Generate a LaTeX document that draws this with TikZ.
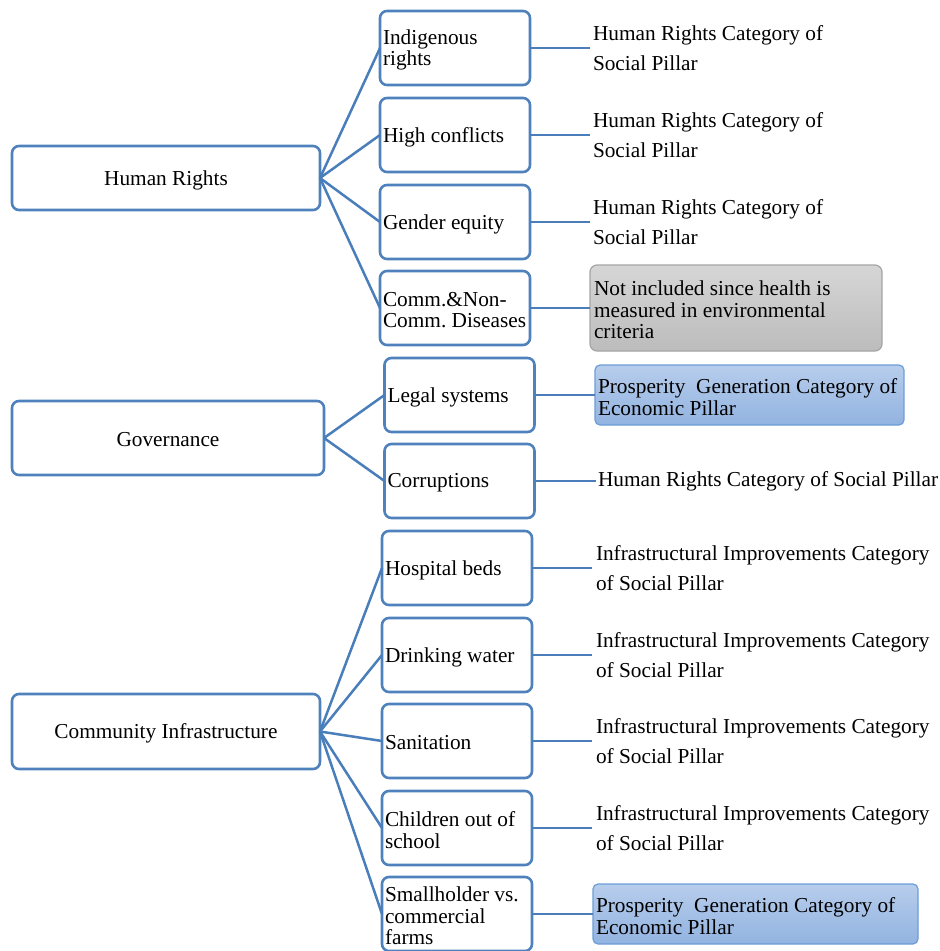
\documentclass[tikz,border=0pt]{standalone}
\usepackage{fontspec}
\setmainfont{Liberation Serif}
\frenchspacing
\definecolor{boxblue}{RGB}{79,129,189}
\definecolor{linkblue}{RGB}{74,126,187}
\definecolor{greytop}{RGB}{214,214,214}
\definecolor{greybot}{RGB}{188,188,188}
\definecolor{greyline}{RGB}{165,165,165}
\definecolor{bluetop}{RGB}{183,205,236}
\definecolor{bluebot}{RGB}{146,179,224}
\definecolor{blueline}{RGB}{108,157,214}
\begin{document}
\begin{tikzpicture}[x=1pt,y=-1pt,
  every node/.style={inner sep=0pt, outer sep=0pt},
  txt/.style={font=\fontsize{21.3}{21.5}\selectfont},
  mainbox/.style={draw=boxblue, line width=2.6pt, rounded corners=7pt, fill=white},
  maintext/.style={txt, align=center, yshift=-2pt},
  midbox/.style={draw=boxblue, line width=2.6pt, rounded corners=7pt, fill=white, minimum width=150pt, minimum height=74pt},
  boxtext/.style={txt, align=left, anchor=west, inner xsep=3pt, yshift=-2pt},
  plaintext/.style={font=\fontsize{21.3}{30}\selectfont, align=left, anchor=west},
  greybox/.style={draw=greyline, line width=1.2pt, rounded corners=7pt, top color=greytop, bottom color=greybot},
  bluebox/.style={draw=blueline, line width=1.2pt, rounded corners=5pt, top color=bluetop, bottom color=bluebot},
  conn/.style={draw=linkblue, line width=2.5pt}
]
\useasboundingbox (0,0) rectangle (940,951);

% ---- main categories
\node[mainbox, minimum width=308pt, minimum height=64pt] (hr) at (166,178) {};
\node[maintext] at (hr.center) {Human Rights};
\node[mainbox, minimum width=312pt, minimum height=74pt] (gov) at (168,438) {};
\node[maintext] at (gov.center) {Governance};
\node[mainbox, minimum width=308pt, minimum height=75pt] (ci) at (166,731.5) {};
\node[maintext] at (ci.center) {Community Infrastructure};

% ---- indicators: human rights
\node[midbox] (ind) at (455,48) {};
\node[boxtext] at (ind.west) {Indigenous\\rights};
\node[midbox] (hc) at (455,135) {};
\node[boxtext] at (hc.west) {High conflicts};
\node[midbox] (ge) at (455,222) {};
\node[boxtext] at (ge.west) {Gender equity};
\node[midbox] (cd) at (455,308) {};
\node[boxtext] at (cd.west) {Comm.\&Non-\\Comm. Diseases};

% ---- indicators: governance
\node[midbox] (ls) at (459.5,395) {};
\node[boxtext] at (ls.west) {Legal systems};
\node[midbox] (co) at (459.5,481) {};
\node[boxtext] at (co.west) {Corruptions};

% ---- indicators: community infrastructure
\node[midbox] (hb) at (457,568) {};
\node[boxtext] at (hb.west) {Hospital beds};
\node[midbox] (dw) at (457,655) {};
\node[boxtext] at (dw.west) {Drinking water};
\node[midbox] (sa) at (457,741) {};
\node[boxtext] at (sa.west) {Sanitation};
\node[midbox] (cs) at (457,828) {};
\node[boxtext] at (cs.west) {Children out of\\school};
\node[midbox] (sh) at (457,914) {};
\node[boxtext] at (sh.west) {Smallholder vs.\\commercial\\farms};

% ---- assigned categories
\node[plaintext, inner xsep=3pt] (r1) at (590,48) {Human Rights Category of\\Social Pillar};
\node[plaintext, inner xsep=3pt] (r2) at (590,135) {Human Rights Category of\\Social Pillar};
\node[plaintext, inner xsep=3pt] (r3) at (590,222) {Human Rights Category of\\Social Pillar};
\node[greybox, minimum width=292pt, minimum height=86pt] (r4) at (736,308) {};
\node[boxtext, inner xsep=4pt] at (r4.west) {Not included since health is\\measured in environmental\\criteria};
\node[bluebox, minimum width=309pt, minimum height=60pt] (r5) at (749.5,395) {};
\node[boxtext] at (r5.west) {Prosperity~ Generation Category of\\Economic Pillar};
\node[plaintext, inner xsep=2pt] (r6) at (596,481) {Human Rights Category of Social Pillar};
\node[plaintext, inner xsep=4pt] (r7) at (592,568) {Infrastructural Improvements Category\\of Social Pillar};
\node[plaintext, inner xsep=4pt] (r8) at (592,655) {Infrastructural Improvements Category\\of Social Pillar};
\node[plaintext, inner xsep=4pt] (r9) at (592,741) {Infrastructural Improvements Category\\of Social Pillar};
\node[plaintext, inner xsep=4pt] (r10) at (592,828) {Infrastructural Improvements Category\\of Social Pillar};
\node[bluebox, minimum width=325pt, minimum height=60pt] (r11) at (755.5,914) {};
\node[boxtext] at (r11.west) {Prosperity~ Generation Category of\\Economic Pillar};

% ---- connectors
\foreach \c in {ind,hc,ge,cd} \draw[conn] (hr.east) -- (\c.west);
\foreach \c in {ls,co} \draw[conn] (gov.east) -- (\c.west);
\foreach \c in {hb,dw,sa,cs,sh} \draw[conn] (ci.east) -- (\c.west);
\draw[conn] (ind.east) -- (r1.west);
\draw[conn] (hc.east) -- (r2.west);
\draw[conn] (ge.east) -- (r3.west);
\draw[conn] (cd.east) -- (r4.west);
\draw[conn] (ls.east) -- (r5.west);
\draw[conn] (co.east) -- (r6.west);
\draw[conn] (hb.east) -- (r7.west);
\draw[conn] (dw.east) -- (r8.west);
\draw[conn] (sa.east) -- (r9.west);
\draw[conn] (cs.east) -- (r10.west);
\draw[conn] (sh.east) -- (r11.west);
\end{tikzpicture}
\end{document}
